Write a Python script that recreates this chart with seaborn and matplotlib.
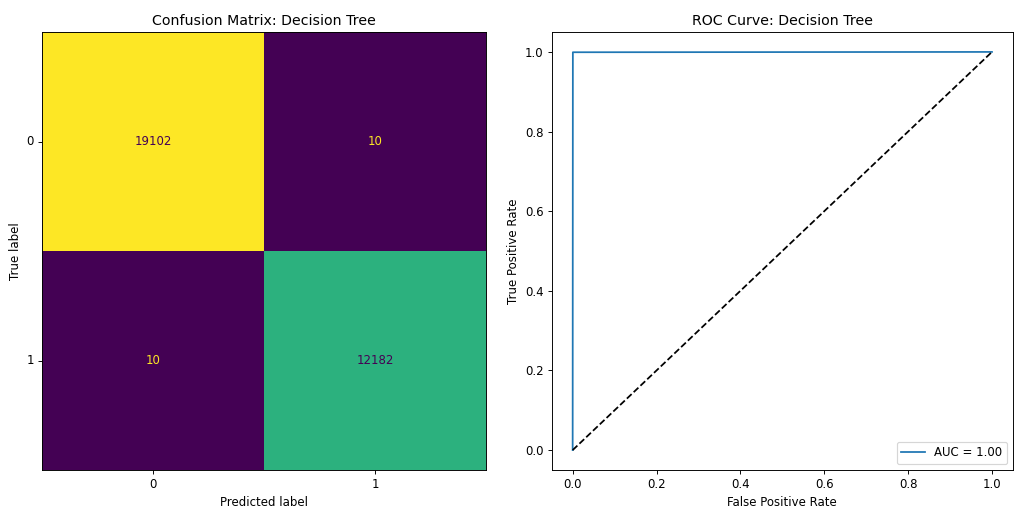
import numpy as np
import pandas as pd
import matplotlib
matplotlib.use("Agg")
import matplotlib.pyplot as plt
import seaborn as sns

# Confusion matrix counts (rows = true label, cols = predicted label)
class_labels = ["0", "1"]
cm_values = np.array([[19102, 10],
                      [10, 12182]])

# ROC curve points for the decision tree
fpr = [0.0, 0.0005, 1.0]
tpr = [0.0, 0.9992, 1.0]
auc_label = "AUC = 1.00"
chance_x = [0, 1]
chance_y = [0, 1]

DPI = 1016 / 12
fig = plt.figure(figsize=(12, 509 / DPI), dpi=DPI)
ax_cm = fig.add_axes([0.0413, 0.0766, 0.437, 0.8605])
ax_roc = fig.add_axes([0.543, 0.0766, 0.454, 0.8605])

# ---- Confusion matrix ----
cm_df = pd.DataFrame(cm_values, index=class_labels, columns=class_labels)
sns.heatmap(cm_df, ax=ax_cm, cmap="viridis", cbar=False, annot=True, fmt="d",
            annot_kws={"fontsize": 10})
cmap = plt.get_cmap("viridis")
thresh = (cm_values.max() + cm_values.min()) / 2.0
flat = cm_values.flatten()
for txt, v in zip(ax_cm.texts, flat):
    txt.set_color(cmap(1.0) if v < thresh else cmap(0.0))
for sp in ax_cm.spines.values():
    sp.set_visible(True)
    sp.set_linewidth(0.8)
ax_cm.tick_params(left=True, bottom=True, length=3.5)
ax_cm.set_yticklabels(class_labels, rotation=0)
ax_cm.set_xticklabels(class_labels, rotation=0)
ax_cm.set_xlabel("Predicted label")
ax_cm.set_ylabel("True label")
ax_cm.set_title("Confusion Matrix: Decision Tree")

# ---- ROC curve ----
roc_df = pd.DataFrame({"fpr": fpr, "tpr": tpr})
sns.lineplot(data=roc_df, x="fpr", y="tpr", ax=ax_roc, sort=False,
             color="#1f77b4", linewidth=1.5, label=auc_label)
sns.lineplot(x=chance_x, y=chance_y, ax=ax_roc, color="black",
             linestyle="--", linewidth=1.5)
ax_roc.set_xlabel("False Positive Rate")
ax_roc.set_ylabel("True Positive Rate")
ax_roc.set_title("ROC Curve: Decision Tree")
ax_roc.legend(loc="lower right")

fig.savefig("out.png", dpi=DPI)
